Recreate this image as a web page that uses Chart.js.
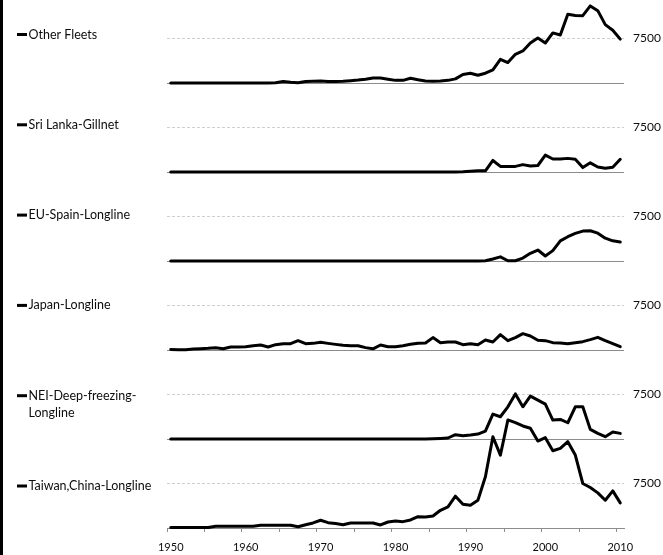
<!DOCTYPE html>
<html>
<head>
<meta charset="utf-8">
<title>Catches by fleet, 1950-2010</title>
<script src="https://cdn.jsdelivr.net/npm/chart.js@4.4.1/dist/chart.umd.min.js"></script>
<style>
  html, body { margin: 0; padding: 0; background: #fff; }
  #wrap { position: relative; width: 663px; height: 555px; }
  #edge { position: absolute; left: 0; top: 0; width: 3px; height: 555px; background: #000; }
  canvas { display: block; }
</style>
</head>
<body>
<div id="wrap">
  <canvas id="chart" width="663" height="555"></canvas>
  <div id="edge"></div>
</div>
<script>
// Years on the category axis
const years = [
  1950, 1951, 1952, 1953, 1954, 1955, 1956, 1957, 1958, 1959,
  1960, 1961, 1962, 1963, 1964, 1965, 1966, 1967, 1968, 1969,
  1970, 1971, 1972, 1973, 1974, 1975, 1976, 1977, 1978, 1979,
  1980, 1981, 1982, 1983, 1984, 1985, 1986, 1987, 1988, 1989,
  1990, 1991, 1992, 1993, 1994, 1995, 1996, 1997, 1998, 1999,
  2000, 2001, 2002, 2003, 2004, 2005, 2006, 2007, 2008, 2009,
  2010
];

// Labelled years along the bottom axis
const yearTickLabels = [1950, 1960, 1970, 1980, 1990, 2000, 2010];

// Reference level marked in every panel, and the value range of one panel
const refLevel = 7500;
const panelSpan = 15000;

// Fleet names, top panel first
const seriesNames = [
  'Other Fleets',
  'Sri Lanka-Gillnet',
  'EU-Spain-Longline',
  'Japan-Longline',
  'NEI-Deep-freezing-Longline',
  'Taiwan,China-Longline'
];

// Annual catches per fleet, 1950-2010
const otherFleets = [
  0, 0, 0, 0, 0, 0, 0, 0, 0, 0,
  0, 0, 0, 0, 50, 250, 120, 60, 250, 300,
  350, 250, 250, 300, 400, 500, 650, 850, 850, 650,
  450, 450, 800, 550, 350, 300, 350, 450, 700, 1450,
  1650, 1300, 1650, 2200, 4000, 3450, 4850, 5400, 6750, 7600,
  6750, 8450, 8100, 11600, 11400, 11350, 13000, 12200, 9850, 8900,
  7400
];

const sriLankaGillnet = [
  0, 0, 0, 0, 0, 0, 0, 0, 0, 0,
  0, 0, 0, 0, 0, 0, 0, 0, 0, 0,
  0, 0, 0, 0, 0, 0, 0, 0, 0, 0,
  0, 0, 0, 0, 0, 0, 0, 0, 0, 50,
  150, 200, 200, 1950, 950, 950, 950, 1250, 1000, 1100,
  2850, 2200, 2200, 2300, 2150, 750, 1550, 850, 650, 800,
  2150
];

const euSpainLongline = [
  0, 0, 0, 0, 0, 0, 0, 0, 0, 0,
  0, 0, 0, 0, 0, 0, 0, 0, 0, 0,
  0, 0, 0, 0, 0, 0, 0, 0, 0, 0,
  0, 0, 0, 0, 0, 0, 0, 0, 0, 0,
  0, 0, 50, 350, 700, 50, 50, 500, 1300, 1850,
  850, 1750, 3400, 4100, 4650, 5050, 5100, 4700, 3850, 3400,
  3200
];

const japanLongline = [
  100, 60, 60, 170, 220, 280, 390, 220, 500, 500,
  560, 730, 840, 500, 900, 1070, 1070, 1570, 1070, 1120,
  1290, 1120, 950, 800, 730, 730, 400, 200, 850, 550,
  560, 730, 960, 1130, 1180, 2090, 1240, 1350, 1350, 900,
  1070, 900, 1690, 1350, 2590, 1580, 2090, 2760, 2370, 1640,
  1580, 1240, 1180, 1070, 1240, 1410, 1750, 2140, 1580, 1070,
  560
];

const neiDeepFreezingLongline = [
  0, 0, 0, 0, 0, 0, 0, 0, 0, 0,
  0, 0, 0, 0, 0, 0, 0, 0, 0, 0,
  0, 0, 0, 0, 0, 0, 0, 0, 0, 0,
  0, 0, 0, 0, 0, 50, 100, 170, 730, 560,
  670, 840, 1340, 4200, 3750, 5430, 7600, 5430, 7220, 6550,
  5880, 3190, 3300, 2740, 5430, 5430, 1620, 950, 390, 1170,
  950
];

const taiwanChinaLongline = [
  100, 100, 100, 100, 100, 100, 300, 300, 300, 300,
  300, 300, 450, 450, 450, 450, 450, 200, 550, 850,
  1300, 900, 750, 560, 850, 850, 850, 850, 510, 1010,
  1190, 1070, 1350, 1910, 1860, 2030, 2990, 3550, 5360, 4000,
  3830, 4680, 8630, 15390, 12290, 18210, 17760, 17200, 16810, 14660,
  15230, 13030, 13420, 14550, 12290, 7500, 6820, 5920, 4680, 6260,
  4230
];

const seriesValues = [
  otherFleets, sriLankaGillnet, euSpainLongline,
  japanLongline, neiDeepFreezingLongline, taiwanChinaLongline
];

// ---- styling ----
const ink = '#0d0d0d';
const axisGray = '#8c8c8c';
const dashGray = '#cfcfcf';
const fontFamily = 'Lato, "Open Sans", sans-serif';
const topWeight = 0.933;        // the top panel is a little shorter than the others

Chart.defaults.font.family = fontFamily;

// Each fleet gets its own y axis; the axes are stacked on the right.
const scales = {
  x: {
    type: 'category',
    position: 'bottom',
    offset: true,
    afterFit: s => { s.height = 27; },
    grid: {
      offset: true,
      drawOnChartArea: false,
      drawTicks: true,
      tickLength: 4,
      tickWidth: 1,
      tickColor: ctx => (typeof ctx.index === 'number' && ctx.index % 5 === 0) ? axisGray : 'rgba(0,0,0,0)'
    },
    border: { display: true, color: axisGray, width: 1 },
    ticks: {
      autoSkip: false,
      maxRotation: 0,
      minRotation: 0,
      padding: 9,
      color: ink,
      font: { family: fontFamily, size: 11 },
      callback: (v, i) => yearTickLabels.includes(years[i]) ? String(years[i]) : ''
    }
  }
};

seriesNames.forEach((name, i) => {
  const weight = i === 0 ? topWeight : 1;
  scales['panel' + i] = {
    type: 'linear',
    position: 'right',
    stack: 'panels',
    stackWeight: weight,
    min: 0,
    max: panelSpan * weight,
    afterBuildTicks: s => { s.ticks = [{ value: 0 }, { value: refLevel }]; },
    afterFit: s => { s.width = 39; s.paddingTop = 0; s.paddingBottom = 0; },
    ticks: {
      padding: 9,
      color: ink,
      font: { family: fontFamily, size: 12 },
      callback: v => v === refLevel ? String(refLevel) : ''
    },
    grid: {
      drawTicks: false,
      lineWidth: 1,
      color: ctx => (ctx.tick && ctx.tick.value === 0) ? axisGray : dashGray
    },
    border: {
      display: false,
      dash: ctx => (ctx.tick && ctx.tick.value === 0) ? [] : [3, 2]
    }
  };
});

// Split a long fleet name after a hyphen so it fits the label column
function wrapName(ctx, text, maxWidth) {
  if (ctx.measureText(text).width <= maxWidth) return [text];
  let cut = -1;
  for (let k = 0; k < text.length; k++) {
    if (text[k] === '-' && ctx.measureText(text.slice(0, k + 1)).width <= maxWidth) cut = k + 1;
  }
  if (cut < 0) return [text];
  return [text.slice(0, cut), text.slice(cut)];
}

// Fleet names in a column on the left, one beside each panel
const panelLegend = {
  id: 'panelLegend',
  afterDraw(chart) {
    const ctx = chart.ctx;
    ctx.save();
    ctx.font = '12.5px ' + fontFamily;
    ctx.textBaseline = 'middle';
    ctx.textAlign = 'left';
    chart.data.datasets.forEach((ds, i) => {
      const y = 34.5 + i * 90.3;
      ctx.fillStyle = ds.borderColor;
      ctx.fillRect(17, y - 1.5, 10, 3);
      ctx.fillStyle = ink;
      wrapName(ctx, ds.label, 136).forEach((line, j) => {
        ctx.fillText(line, 28.5, y + j * 17.5);
      });
    });
    ctx.restore();
  }
};

new Chart(document.getElementById('chart'), {
  type: 'line',
  data: {
    labels: years,
    datasets: seriesNames.map((name, i) => ({
      label: name,
      data: seriesValues[i],
      yAxisID: 'panel' + i,
      borderColor: '#000',
      backgroundColor: '#000',
      borderWidth: 3,
      borderJoinStyle: 'round',
      borderCapStyle: 'round',
      pointRadius: 0,
      pointHoverRadius: 0,
      tension: 0,
      fill: false,
      clip: false
    }))
  },
  options: {
    responsive: false,
    animation: false,
    devicePixelRatio: 1,
    layout: { padding: { left: 167, right: 0, top: 0, bottom: 0 } },
    plugins: {
      legend: { display: false },
      tooltip: { enabled: false }
    },
    scales: scales
  },
  plugins: [panelLegend]
});
</script>
</body>
</html>
